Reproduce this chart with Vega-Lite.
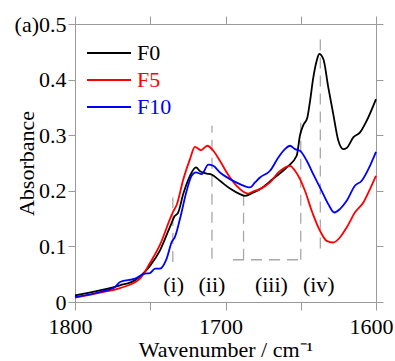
{
  "$schema": "https://vega.github.io/schema/vega-lite/v6.json",
  "width": 301,
  "height": 278,
  "autosize": {"type": "none"},
  "padding": {"left": 75, "top": 24, "right": 19, "bottom": 59},
  "config": {
    "font": "Liberation Serif",
    "view": {"stroke": null},
    "axis": {
      "domainColor": "#9a9a9a", "tickColor": "#9a9a9a", "tickSize": 7, "grid": false,
      "labelFont": "Liberation Serif", "labelFontSize": 22, "labelColor": "#000000",
      "titleFont": "Liberation Serif", "titleFontSize": 22, "titleFontWeight": "normal", "titleColor": "#000000",
      "domainWidth": 1, "tickWidth": 1
    }
  },
  "datasets": {
    "spectra": [
      {"series": "F0", "wn": 1800, "abs": 0.012}, {"series": "F0", "wn": 1783.4, "abs": 0.021}, {"series": "F0", "wn": 1770.1, "abs": 0.030},
      {"series": "F0", "wn": 1760.1, "abs": 0.039}, {"series": "F0", "wn": 1756.8, "abs": 0.046}, {"series": "F0", "wn": 1750.2, "abs": 0.065},
      {"series": "F0", "wn": 1743.5, "abs": 0.093}, {"series": "F0", "wn": 1736.9, "abs": 0.135}, {"series": "F0", "wn": 1733.6, "abs": 0.155},
      {"series": "F0", "wn": 1731.6, "abs": 0.160}, {"series": "F0", "wn": 1728.0, "abs": 0.195}, {"series": "F0", "wn": 1723.6, "abs": 0.227},
      {"series": "F0", "wn": 1719.6, "abs": 0.242}, {"series": "F0", "wn": 1716.9, "abs": 0.235}, {"series": "F0", "wn": 1712.5, "abs": 0.231},
      {"series": "F0", "wn": 1709.2, "abs": 0.229}, {"series": "F0", "wn": 1703.7, "abs": 0.218}, {"series": "F0", "wn": 1697.0, "abs": 0.204},
      {"series": "F0", "wn": 1690.4, "abs": 0.194}, {"series": "F0", "wn": 1687.0, "abs": 0.191}, {"series": "F0", "wn": 1681.5, "abs": 0.197},
      {"series": "F0", "wn": 1677.1, "abs": 0.203}, {"series": "F0", "wn": 1668.2, "abs": 0.222}, {"series": "F0", "wn": 1659.3, "abs": 0.242},
      {"series": "F0", "wn": 1652.7, "abs": 0.263}, {"series": "F0", "wn": 1650.5, "abs": 0.300}, {"series": "F0", "wn": 1648.3, "abs": 0.318},
      {"series": "F0", "wn": 1645.6, "abs": 0.332}, {"series": "F0", "wn": 1643.9, "abs": 0.360}, {"series": "F0", "wn": 1641.7, "abs": 0.403},
      {"series": "F0", "wn": 1639.4, "abs": 0.434}, {"series": "F0", "wn": 1637.7, "abs": 0.446}, {"series": "F0", "wn": 1635.0, "abs": 0.437},
      {"series": "F0", "wn": 1631.7, "abs": 0.386}, {"series": "F0", "wn": 1628.4, "abs": 0.338}, {"series": "F0", "wn": 1625.0, "abs": 0.290},
      {"series": "F0", "wn": 1621.7, "abs": 0.275}, {"series": "F0", "wn": 1619.5, "abs": 0.277}, {"series": "F0", "wn": 1615.1, "abs": 0.296},
      {"series": "F0", "wn": 1610.6, "abs": 0.305}, {"series": "F0", "wn": 1606.2, "abs": 0.326}, {"series": "F0", "wn": 1600.0, "abs": 0.365},

      {"series": "F5", "wn": 1800, "abs": 0.008}, {"series": "F5", "wn": 1783.4, "abs": 0.017}, {"series": "F5", "wn": 1770.1, "abs": 0.025},
      {"series": "F5", "wn": 1756.8, "abs": 0.042}, {"series": "F5", "wn": 1750.2, "abs": 0.070}, {"series": "F5", "wn": 1743.5, "abs": 0.103},
      {"series": "F5", "wn": 1736.9, "abs": 0.149}, {"series": "F5", "wn": 1734.7, "abs": 0.163}, {"series": "F5", "wn": 1732.4, "abs": 0.175},
      {"series": "F5", "wn": 1728.0, "abs": 0.221}, {"series": "F5", "wn": 1723.6, "abs": 0.257}, {"series": "F5", "wn": 1720.3, "abs": 0.279},
      {"series": "F5", "wn": 1716.3, "abs": 0.273}, {"series": "F5", "wn": 1712.1, "abs": 0.281}, {"series": "F5", "wn": 1708.1, "abs": 0.272},
      {"series": "F5", "wn": 1703.7, "abs": 0.254}, {"series": "F5", "wn": 1699.2, "abs": 0.233}, {"series": "F5", "wn": 1692.6, "abs": 0.209},
      {"series": "F5", "wn": 1684.8, "abs": 0.195}, {"series": "F5", "wn": 1681.5, "abs": 0.199}, {"series": "F5", "wn": 1677.1, "abs": 0.203},
      {"series": "F5", "wn": 1670.4, "abs": 0.215}, {"series": "F5", "wn": 1664.9, "abs": 0.233}, {"series": "F5", "wn": 1657.1, "abs": 0.245},
      {"series": "F5", "wn": 1653.8, "abs": 0.236}, {"series": "F5", "wn": 1650.5, "abs": 0.221}, {"series": "F5", "wn": 1647.2, "abs": 0.200},
      {"series": "F5", "wn": 1642.7, "abs": 0.164}, {"series": "F5", "wn": 1637.2, "abs": 0.128}, {"series": "F5", "wn": 1632.8, "abs": 0.110},
      {"series": "F5", "wn": 1628.4, "abs": 0.107}, {"series": "F5", "wn": 1624.0, "abs": 0.116}, {"series": "F5", "wn": 1619.5, "abs": 0.134},
      {"series": "F5", "wn": 1614.0, "abs": 0.161}, {"series": "F5", "wn": 1608.4, "abs": 0.179}, {"series": "F5", "wn": 1604.0, "abs": 0.203},
      {"series": "F5", "wn": 1600.0, "abs": 0.227},

      {"series": "F10", "wn": 1800, "abs": 0.009}, {"series": "F10", "wn": 1783.4, "abs": 0.018}, {"series": "F10", "wn": 1773.4, "abs": 0.027},
      {"series": "F10", "wn": 1770.1, "abs": 0.036}, {"series": "F10", "wn": 1760.1, "abs": 0.042}, {"series": "F10", "wn": 1753.5, "abs": 0.051},
      {"series": "F10", "wn": 1750.2, "abs": 0.052}, {"series": "F10", "wn": 1746.8, "abs": 0.060}, {"series": "F10", "wn": 1743.5, "abs": 0.060},
      {"series": "F10", "wn": 1739.1, "abs": 0.078}, {"series": "F10", "wn": 1735.7, "abs": 0.108}, {"series": "F10", "wn": 1733.6, "abs": 0.117},
      {"series": "F10", "wn": 1730.2, "abs": 0.150}, {"series": "F10", "wn": 1725.8, "abs": 0.200}, {"series": "F10", "wn": 1722.5, "abs": 0.227},
      {"series": "F10", "wn": 1719.6, "abs": 0.233}, {"series": "F10", "wn": 1715.8, "abs": 0.230}, {"series": "F10", "wn": 1711.4, "abs": 0.247},
      {"series": "F10", "wn": 1708.1, "abs": 0.245}, {"series": "F10", "wn": 1703.7, "abs": 0.233}, {"series": "F10", "wn": 1697.0, "abs": 0.221},
      {"series": "F10", "wn": 1690.4, "abs": 0.212}, {"series": "F10", "wn": 1683.7, "abs": 0.206}, {"series": "F10", "wn": 1680.4, "abs": 0.215},
      {"series": "F10", "wn": 1677.1, "abs": 0.224}, {"series": "F10", "wn": 1670.4, "abs": 0.236}, {"series": "F10", "wn": 1664.9, "abs": 0.260},
      {"series": "F10", "wn": 1660.5, "abs": 0.275}, {"series": "F10", "wn": 1657.1, "abs": 0.281}, {"series": "F10", "wn": 1653.8, "abs": 0.275},
      {"series": "F10", "wn": 1650.5, "abs": 0.272}, {"series": "F10", "wn": 1646.0, "abs": 0.254}, {"series": "F10", "wn": 1641.7, "abs": 0.230},
      {"series": "F10", "wn": 1636.1, "abs": 0.200}, {"series": "F10", "wn": 1631.7, "abs": 0.176}, {"series": "F10", "wn": 1627.7, "abs": 0.161},
      {"series": "F10", "wn": 1624.0, "abs": 0.167}, {"series": "F10", "wn": 1619.5, "abs": 0.182}, {"series": "F10", "wn": 1614.0, "abs": 0.209},
      {"series": "F10", "wn": 1609.5, "abs": 0.218}, {"series": "F10", "wn": 1604.0, "abs": 0.245}, {"series": "F10", "wn": 1600.0, "abs": 0.270}
    ],
    "guides": [
      {"x1": 1735, "x2": 1735, "y1": 0.072, "y2": 0.188},
      {"x1": 1709, "x2": 1709, "y1": 0.078, "y2": 0.317},
      {"x1": 1688, "x2": 1688, "y1": 0.076, "y2": 0.191},
      {"x1": 1650, "x2": 1650, "y1": 0.076, "y2": 0.335},
      {"x1": 1637, "x2": 1637, "y1": 0.096, "y2": 0.478},
      {"x1": 1695, "x2": 1649, "y1": 0.076, "y2": 0.076}
    ],
    "labels": [
      {"text": "(i)", "x": 1734.5, "y": 0.03},
      {"text": "(ii)", "x": 1709, "y": 0.03},
      {"text": "(iii)", "x": 1669.5, "y": 0.03},
      {"text": "(iv)", "x": 1638, "y": 0.03}
    ]
  },
  "layer": [
    {
      "data": {"name": "guides"},
      "mark": {"type": "rule", "color": "#a8a8a8", "strokeDash": [11, 7], "strokeWidth": 1.3},
      "encoding": {
        "x": {"field": "x1", "type": "quantitative",
              "scale": {"domain": [1600, 1800], "reverse": true, "nice": false, "zero": false},
              "axis": {"orient": "bottom", "values": [1600, 1650, 1700, 1750, 1800],
                       "labelExpr": "datum.value % 100 == 0 ? format(datum.value, 'd') : ''",
                       "tickSize": 8, "labelPadding": 6, "labelOffset": -5, "labelFlush": false, "labelOverlap": false,
                       "title": "Wavenumber / cm⁻¹", "titleBaseline": "alphabetic", "titleY": 54}},
        "x2": {"field": "x2"},
        "y": {"field": "y1", "type": "quantitative",
              "scale": {"domain": [0, 0.5], "nice": false},
              "axis": {"orient": "left", "values": [0, 0.1, 0.2, 0.3, 0.4, 0.5],
                       "labelExpr": "datum.value == 0 ? '0' : datum.value == 0.5 ? '(a)0.5' : format(datum.value, '.1f')",
                       "tickSize": 7, "labelPadding": 2, "labelFlush": false, "labelOverlap": false,
                       "title": "Absorbance", "titleBaseline": "alphabetic", "titleX": -42, "titleY": 139}},
        "y2": {"field": "y2"}
      }
    },
    {
      "data": {"name": "spectra"},
      "mark": {"type": "line", "strokeWidth": 1.8, "interpolate": "monotone"},
      "encoding": {
        "x": {"field": "wn", "type": "quantitative",
              "scale": {"domain": [1600, 1800], "reverse": true, "nice": false, "zero": false},
              "axis": {"orient": "top", "values": [1600, 1650, 1700, 1750, 1800], "labels": false, "title": null, "tickSize": 8}},
        "y": {"field": "abs", "type": "quantitative",
              "scale": {"domain": [0, 0.5], "nice": false},
              "axis": {"orient": "right", "values": [0, 0.1, 0.2, 0.3, 0.4, 0.5], "labels": false, "title": null, "tickSize": 7}},
        "color": {"field": "series", "type": "nominal",
                  "scale": {"domain": ["F0", "F5", "F10"], "range": ["#000000", "#ff0000", "#0000ff"]},
                  "legend": {"orient": "none", "legendX": 11, "legendY": 18, "title": null,
                             "symbolType": "stroke", "symbolSize": 1936, "symbolStrokeWidth": 2,
                             "labelFont": "Liberation Serif", "labelFontSize": 22,
                             "clipHeight": 22, "rowPadding": 5, "labelOffset": 5, "padding": 0,
                             "encode": {"labels": {"update": {"fill": {"signal": "datum.value == 'F0' ? '#000000' : datum.value == 'F5' ? '#ff0000' : '#0000ff'"}}}}}}
      }
    },
    {
      "data": {"name": "labels"},
      "mark": {"type": "text", "font": "Liberation Serif", "fontSize": 22, "baseline": "middle", "align": "center", "color": "#000000"},
      "encoding": {
        "x": {"field": "x", "type": "quantitative", "scale": {"domain": [1600, 1800], "reverse": true, "nice": false, "zero": false}, "axis": null},
        "y": {"field": "y", "type": "quantitative", "scale": {"domain": [0, 0.5], "nice": false}, "axis": null},
        "text": {"field": "text"}
      }
    }
  ],
  "resolve": {"axis": {"x": "independent", "y": "independent"}}
}
